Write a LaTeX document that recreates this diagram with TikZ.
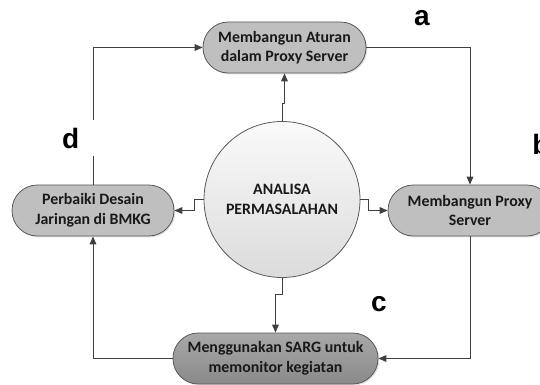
\documentclass[tikz,border=0pt]{standalone}
\usepackage{fontspec}
\setmainfont{Carlito}
\newfontfamily\lblfont{Liberation Sans}
\usetikzlibrary{arrows.meta,shadows}
\definecolor{boxgray}{HTML}{BFBFBF}
\definecolor{darkbox}{HTML}{999999}
\definecolor{edgegray}{HTML}{595959}
\definecolor{linegray}{HTML}{404040}
\begin{document}
\begin{tikzpicture}[x=0.75pt,y=-0.75pt,
  pill/.style={draw=edgegray, line width=0.6pt, rounded corners=19pt,
    minimum height=38.25pt, align=center, inner sep=2pt,
    font=\fontsize{11.9}{14.6}\selectfont\bfseries, text=black!90,
    drop shadow={opacity=0.25, shadow xshift=1pt, shadow yshift=-1pt}},
  lightpill/.style={pill, fill=boxgray},
  darkpill/.style={pill, top color=darkbox!85!white, bottom color=darkbox!90!black},
  hub/.style={circle, draw=edgegray, line width=0.6pt, minimum size=117pt,
    align=center, inner sep=0pt, top color=gray!4, bottom color=gray!28,
    font=\fontsize{11.9}{14.6}\selectfont\bfseries, text=black!90},
  arr/.style={draw=linegray, line width=0.75pt, -{Triangle[length=6pt,width=5pt]}},
  lbl/.style={font=\lblfont\fontsize{21}{24}\selectfont\bfseries, inner sep=0pt}
]
\useasboundingbox (0,0) rectangle (540,385);

\node[lightpill, minimum width=122.25pt] (T) at (284.5,47.5) {Membangun Aturan\\dalam Proxy Server};
\node[lightpill, minimum width=123pt] (R) at (470,210.5) {Membangun Proxy\\Server};
\node[lightpill, minimum width=121.5pt] (L) at (93,210.5) {Perbaiki Desain\\Jaringan di BMKG};
\node[darkpill, minimum width=153.75pt] (B) at (275.5,358.5) {Menggunakan SARG untuk\\memonitor kegiatan};
\node[hub] (C) at (282,199.5) {ANALISA\\PERMASALAHAN};

% outer loop
\draw[arr] (L.north) |- (T.west);
\draw[arr] (T.east) -| (R.north);
\draw[arr] (R.south) |- (B.east);
\draw[arr] (B.west) -| (L.south);

% from centre
\draw[arr] (C.north) -- ++(0,-18) -| (T.south);
\draw[arr] (C.east) -- ++(8,0) |- (R.west);
\draw[arr] (C.west) -- ++(-9,0) |- (L.east);
\draw[arr] (C.south) -- ++(0,17) -| (B.north);

% labels
\node[lbl] (la) at (422,18) {a};
\node[lbl, anchor=west] (lb) at (532,144) {b};
\node[lbl] (lc) at (379,304) {c};
\node[lbl, fill=white, text width=24pt, align=left, minimum height=27pt] (ld) at (78,138) {d};
\end{tikzpicture}
\end{document}
